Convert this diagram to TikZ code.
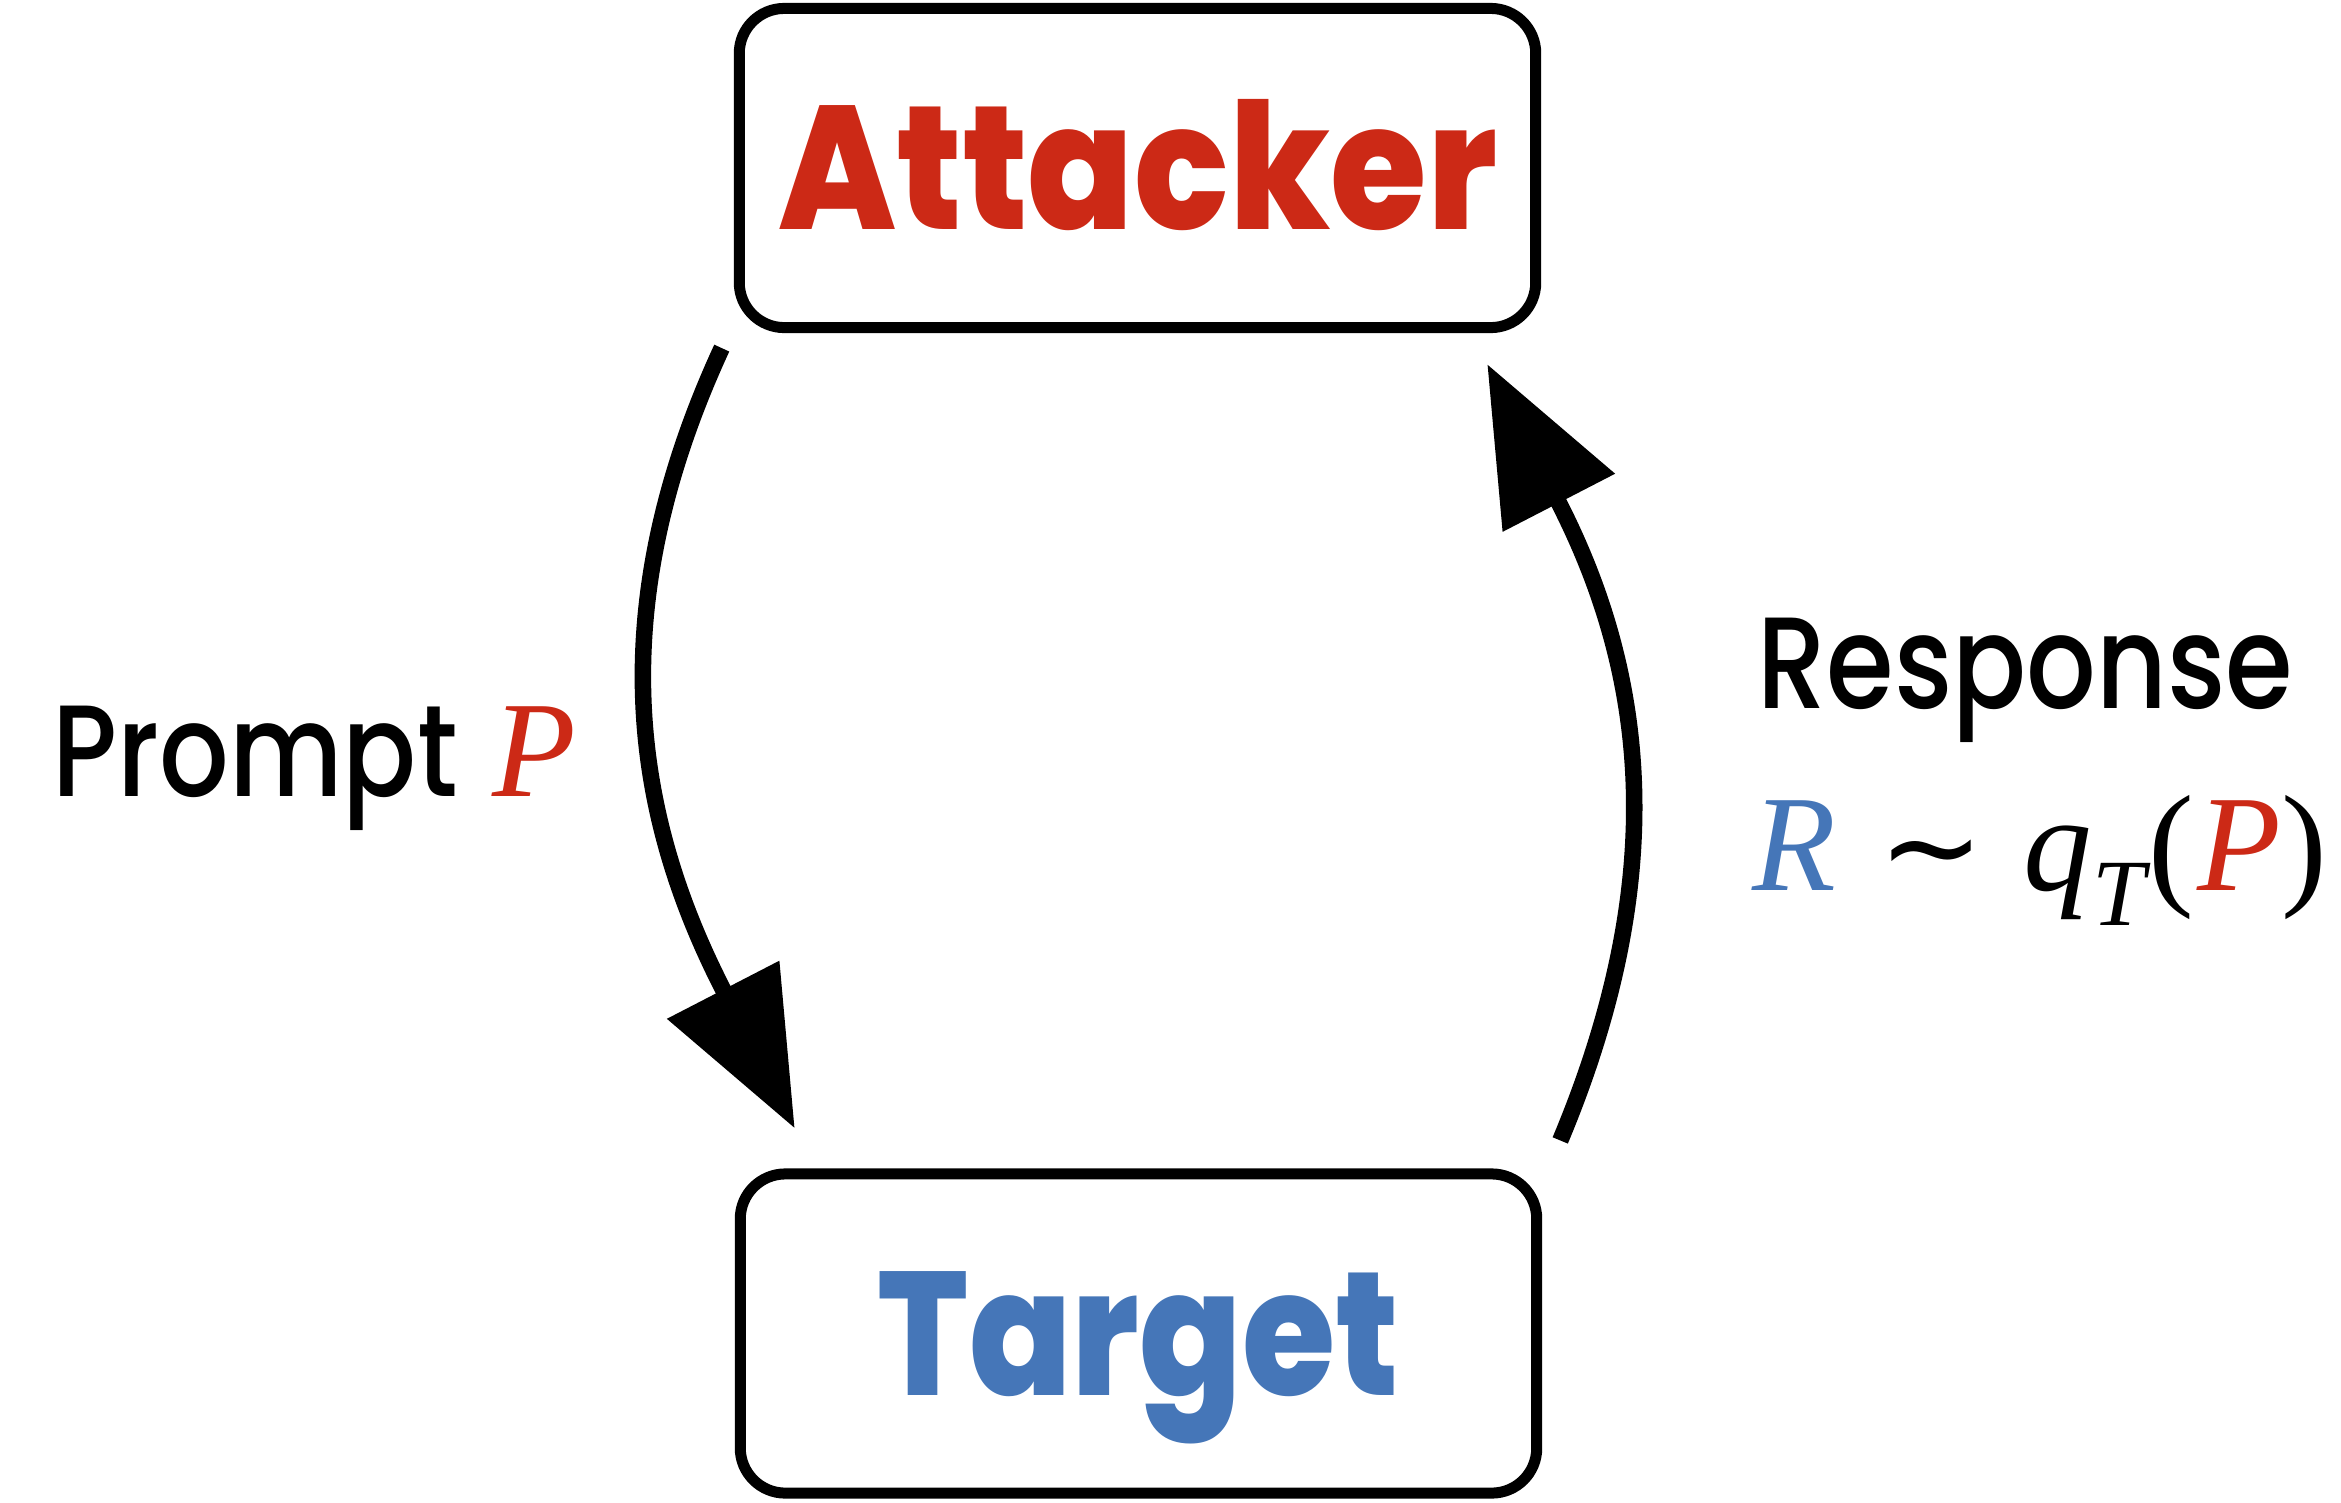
\documentclass[tikz,border=0pt]{standalone}
\usepackage{fontspec}
\setmainfont{Poppins}
\newfontfamily\pmed{Poppins Medium}
\newfontfamily\pxb{Poppins ExtraBold}
\newfontfamily\tnr{Liberation Serif}
\newfontfamily\djs{DejaVu Sans}
\usetikzlibrary{arrows.meta,calc}
\definecolor{ared}{RGB}{204,41,22}
\definecolor{tblue}{RGB}{69,118,184}
\begin{document}
\begin{tikzpicture}[x=0.01cm,y=-0.01cm,
  box/.style={draw, line width=0.11cm, rounded corners=0.45cm, minimum width=7.96cm, minimum height=3.19cm,
    inner sep=0pt, text height=35pt, text depth=0pt, font=\pxb\fontsize{50}{52}\selectfont},
  flow/.style={line width=0.165cm, -{Triangle[length=1.56cm,width=1.22cm]}},
  lbl/.style={inner sep=0pt, anchor=base west, font=\pmed\fontsize{37}{40}\selectfont}]
\useasboundingbox (0,0) rectangle (2341,1502);
\node[box, text=ared] (att) at (1137.5,168) {\scalebox{0.89}[1]{Attacker}};
\node[box, text=tblue] (tgt) at (1138.5,1333.5) {\scalebox{0.86}[1]{Target}};
\coordinate (ls) at ([shift={(-12,15)}]att.south west);
\coordinate (lt) at ([shift={(60,-40)}]tgt.north west);
\coordinate (rs) at ([shift={(18,-28)}]tgt.north east);
\coordinate (rt) at ([shift={(-54,31)}]att.south east);
\draw[flow] (ls) .. controls +(-126,273) and +(-156,-302) .. (lt);
\draw[flow] (rs) .. controls +(114,-272) and +(156,302) .. (rt);
\node[lbl] (prompt) at (52,796) {\scalebox{0.84}[1]{Prompt}\hspace{10pt}{\tnr\itshape\fontsize{39}{40}\selectfont\color{ared}P}};
\node[lbl] (resp) at (1757,708) {\scalebox{0.84}[1]{Response}};
\node[lbl, font=\tnr\fontsize{39}{40}\selectfont] (dist) at (1752,890)
  {{\itshape\color{tblue}R}\hspace{12pt}\raisebox{0pt}{\djs\fontsize{36}{36}\selectfont ∼}\hspace{11pt}{\itshape q}\raisebox{-10pt}{\itshape\fontsize{27}{28}\selectfont T}\hspace{1pt}(\hspace{1pt}{\itshape\color{ared}P})};
\end{tikzpicture}
\end{document}
